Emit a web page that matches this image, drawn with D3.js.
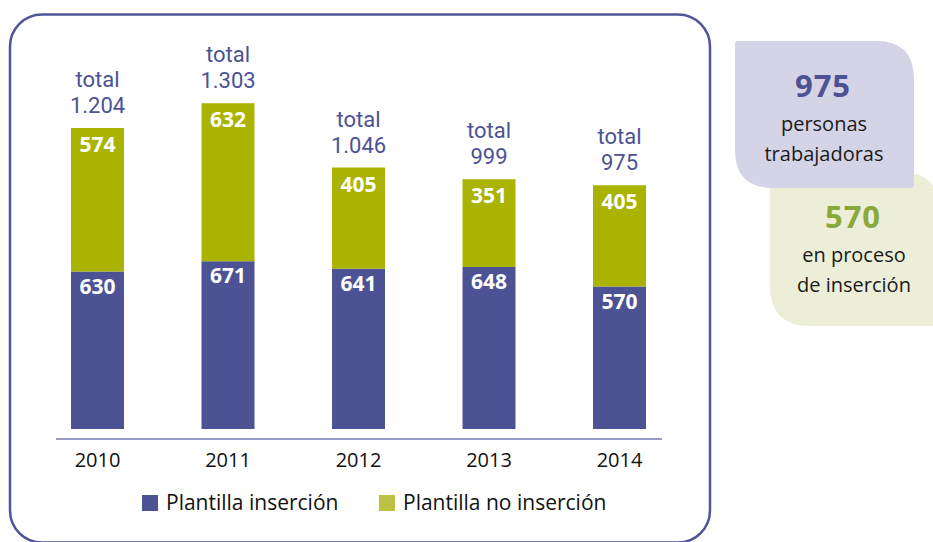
<!DOCTYPE html>
<html>
<head>
<meta charset="utf-8">
<script src="https://cdn.jsdelivr.net/npm/d3@7"></script>
<style>
  body { margin: 0; background: #fff; }
  svg text { font-family: "Open Sans", "Noto Sans", sans-serif; }
</style>
</head>
<body>
<script>
'use strict';

// chart data
const years = ["2010", "2011", "2012", "2013", "2014"]
const insercion = [630, 671, 641, 648, 570]
const noInsercion = [574, 632, 405, 351, 405]
const seriesNames = ["Plantilla inserción", "Plantilla no inserción"]

// side boxes
const summaryValues = [975, 570]
const summaryLines = [["personas", "trabajadoras"], ["en proceso", "de inserción"]]

const colors = {
  purple: "#4c5294",
  green: "#aab300",
  legendGreen: "#bcc043",
  border: "#4f5598",
  axis: "#7478b0",
  boxPurple: "#d5d3e6",
  boxGreen: "#eceed7",
  textGreen: "#8aa83c"
}

const m = { width: 933, height: 542 }

const svg = d3.select('body')
  .append('svg')
  .attr('width', m.width)
  .attr('height', m.height)

// spanish number format (1.204)
const es = d3.formatLocale({ decimal: ",", thousands: ".", grouping: [3], currency: ["", "€"] })
const fmt = es.format(",d")

// rows for stacking
const rows = years.map((y, i) => ({ year: y, ins: insercion[i], noins: noInsercion[i] }))
const stacked = d3.stack().keys(["ins", "noins"])(rows)

const x = d3.scaleBand()
  .domain(years)
  .range([32.25, 684.75])
  .paddingInner(0.594)
  .paddingOuter(0.297)

const y = d3.scaleLinear()
  .domain([0, 1400])
  .range([429, 79])

// outer rounded frame
svg.append('rect')
  .attr('x', 10)
  .attr('y', 14.5)
  .attr('width', 700)
  .attr('height', 528)
  .attr('rx', 32)
  .attr('fill', 'none')
  .attr('stroke', colors.border)
  .attr('stroke-width', 2.5)

// bars
const barColors = [colors.purple, colors.green]
stacked.forEach((layer, li) => {
  svg.append('g').selectAll('rect')
    .data(layer)
    .enter()
    .append('rect')
      .attr('x', d => x(d.data.year))
      .attr('y', d => y(d[1]))
      .attr('width', x.bandwidth())
      .attr('height', d => y(d[0]) - y(d[1]))
      .attr('fill', barColors[li])

  // white value labels inside bars
  svg.append('g').selectAll('text')
    .data(layer)
    .enter()
    .append('text')
      .attr('x', d => x(d.data.year) + x.bandwidth() / 2)
      .attr('y', d => y(d[1]) + (li === 0 ? 22 : 24))
      .attr('text-anchor', 'middle')
      .attr('fill', '#fff')
      .style('font-size', '21px')
      .style('font-weight', 'bold')
      .text(d => d[1] - d[0])
})

// totals above bars
const totals = svg.append('g').selectAll('g')
  .data(rows)
  .enter()
  .append('g')
  .attr('transform', d => 'translate(' + (x(d.year) + x.bandwidth() / 2) + ',' + y(d.ins + d.noins) + ')')

totals.append('text')
  .attr('y', -41)
  .attr('text-anchor', 'middle')
  .attr('fill', colors.purple)
  .style('font-family', 'Roboto, sans-serif')
  .style('font-size', '22px')
  .text('total')

totals.append('text')
  .attr('y', -15)
  .attr('text-anchor', 'middle')
  .attr('fill', colors.purple)
  .style('font-family', 'Roboto, sans-serif')
  .style('font-size', '22px')
  .text(d => fmt(d.ins + d.noins))

// x axis line + year labels
svg.append('line')
  .attr('x1', 56).attr('x2', 662)
  .attr('y1', 439).attr('y2', 439)
  .attr('stroke', colors.axis)
  .attr('stroke-width', 1.5)

svg.append('g').selectAll('text')
  .data(years)
  .enter()
  .append('text')
    .attr('x', d => x(d) + x.bandwidth() / 2)
    .attr('y', 467)
    .attr('text-anchor', 'middle')
    .attr('fill', '#111')
    .style('font-size', '20px')
    .text(d => d)

// legend
const legendX = [142, 379]
const legendColors = [colors.purple, colors.legendGreen]
seriesNames.forEach((name, i) => {
  svg.append('rect')
    .attr('x', legendX[i]).attr('y', 495)
    .attr('width', 16).attr('height', 16)
    .attr('fill', legendColors[i])
  svg.append('text')
    .attr('x', legendX[i] + 24).attr('y', 510)
    .attr('fill', '#111')
    .style('font-size', '21px')
    .text(name)
})

// leaf shape: rounded top-right and bottom-left
function leaf(x0, y0, x1, y1, rBig, rSmall) {
  return 'M' + (x0 + rSmall) + ',' + y0 +
    'L' + (x1 - rBig) + ',' + y0 +
    'Q' + x1 + ',' + y0 + ' ' + x1 + ',' + (y0 + rBig) +
    'L' + x1 + ',' + (y1 - rSmall) +
    'Q' + x1 + ',' + y1 + ' ' + (x1 - rSmall) + ',' + y1 +
    'L' + (x0 + rBig) + ',' + y1 +
    'Q' + x0 + ',' + y1 + ' ' + x0 + ',' + (y1 - rBig) +
    'L' + x0 + ',' + (y0 + rSmall) +
    'Q' + x0 + ',' + y0 + ' ' + (x0 + rSmall) + ',' + y0 + 'Z'
}

svg.append('path')
  .attr('d', leaf(770, 172, 940, 326, 40, 2))
  .attr('fill', colors.boxGreen)

svg.append('path')
  .attr('d', leaf(735, 41, 914, 188, 38, 3))
  .attr('fill', colors.boxPurple)

// summary texts
const summary = [
  { cx: 823, y: 97, color: colors.purple },
  { cx: 853, y: 228, color: colors.textGreen }
]
summary.forEach((s, i) => {
  svg.append('text')
    .attr('x', s.cx).attr('y', s.y)
    .attr('text-anchor', 'middle')
    .attr('fill', s.color)
    .style('font-size', '31px')
    .style('font-weight', 'bold')
    .style('letter-spacing', '1px')
    .text(summaryValues[i])
  summaryLines[i].forEach((line, j) => {
    svg.append('text')
      .attr('x', s.cx + 1).attr('y', s.y + 34 + j * 30)
      .attr('text-anchor', 'middle')
      .attr('fill', '#1a1a1a')
      .style('font-size', '20px')
      .text(line)
  })
})
</script>
</body>
</html>
